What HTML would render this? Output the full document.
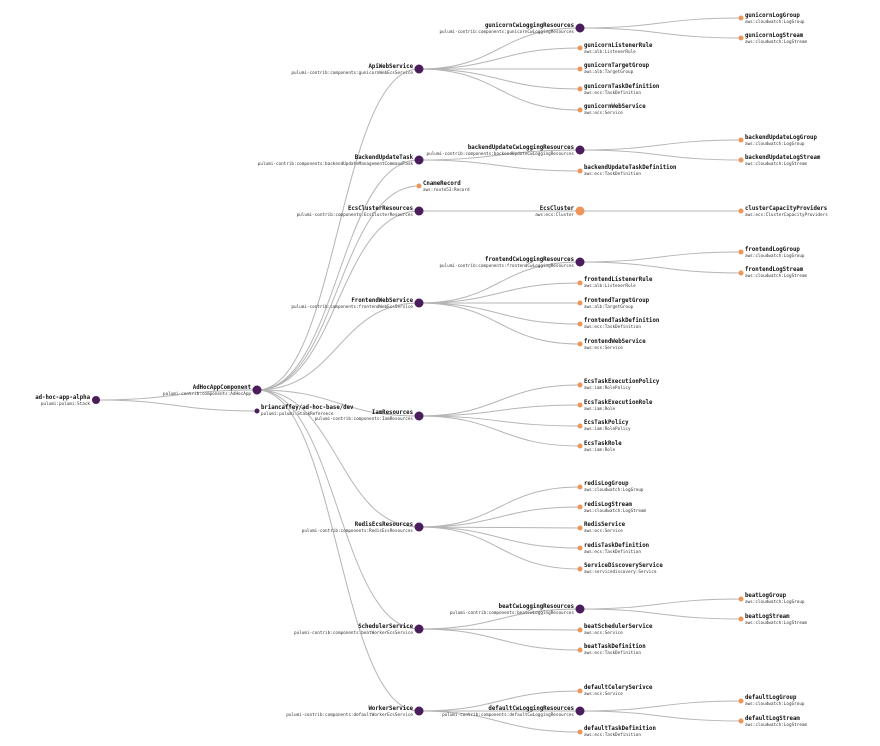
<!DOCTYPE html>
<html><head><meta charset="utf-8"><style>
html,body{margin:0;padding:0;background:#fff;}
svg{display:block;}
path{fill:none;stroke:#b5b5b5;stroke-width:1;}
text{font-family:"DejaVu Sans Mono","Liberation Mono",monospace;fill:#111;}
.n{font-size:5.7px;font-weight:bold;}
.t{font-size:4.3px;fill:#333;}
.l text{text-anchor:end;}
.p{fill:#4b1d5c;}
.o{fill:#f0955a;}
</style></head><body>
<svg width="880" height="746" viewBox="0 0 880 746" xmlns="http://www.w3.org/2000/svg">
<g>
<path d="M96,400C176.5,400 176.5,390 257,390"/>
<path d="M96,400C176.5,400 176.5,411 257,411"/>
<path d="M257,390C338,390 338,69 419,69"/>
<path d="M257,390C338,390 338,160 419,160"/>
<path d="M257,390C338,390 338,186 419,186"/>
<path d="M257,390C338,390 338,211 419,211"/>
<path d="M257,390C338,390 338,303 419,303"/>
<path d="M257,390C338,390 338,416 419,416"/>
<path d="M257,390C338,390 338,527 419,527"/>
<path d="M257,390C338,390 338,629 419,629"/>
<path d="M257,390C338,390 338,711 419,711"/>
<path d="M419,69C499.5,69 499.5,28 580,28"/>
<path d="M419,69C499.5,69 499.5,48 580,48"/>
<path d="M419,69C499.5,69 499.5,69 580,69"/>
<path d="M419,69C499.5,69 499.5,89 580,89"/>
<path d="M419,69C499.5,69 499.5,110 580,110"/>
<path d="M580,28C660.5,28 660.5,18 741,18"/>
<path d="M580,28C660.5,28 660.5,38 741,38"/>
<path d="M419,160C499.5,160 499.5,150 580,150"/>
<path d="M419,160C499.5,160 499.5,171 580,171"/>
<path d="M580,150C660.5,150 660.5,140 741,140"/>
<path d="M580,150C660.5,150 660.5,160 741,160"/>
<path d="M419,211C499.5,211 499.5,211 580,211"/>
<path d="M580,211C660.5,211 660.5,211 741,211"/>
<path d="M419,303C499.5,303 499.5,262 580,262"/>
<path d="M419,303C499.5,303 499.5,283 580,283"/>
<path d="M419,303C499.5,303 499.5,303 580,303"/>
<path d="M419,303C499.5,303 499.5,324 580,324"/>
<path d="M419,303C499.5,303 499.5,344 580,344"/>
<path d="M580,262C660.5,262 660.5,252 741,252"/>
<path d="M580,262C660.5,262 660.5,273 741,273"/>
<path d="M419,416C499.5,416 499.5,385 580,385"/>
<path d="M419,416C499.5,416 499.5,405 580,405"/>
<path d="M419,416C499.5,416 499.5,426 580,426"/>
<path d="M419,416C499.5,416 499.5,446 580,446"/>
<path d="M419,527C499.5,527 499.5,487 580,487"/>
<path d="M419,527C499.5,527 499.5,507 580,507"/>
<path d="M419,527C499.5,527 499.5,528 580,528"/>
<path d="M419,527C499.5,527 499.5,548 580,548"/>
<path d="M419,527C499.5,527 499.5,569 580,569"/>
<path d="M419,629C499.5,629 499.5,609 580,609"/>
<path d="M419,629C499.5,629 499.5,630 580,630"/>
<path d="M419,629C499.5,629 499.5,650 580,650"/>
<path d="M580,609C660.5,609 660.5,599 741,599"/>
<path d="M580,609C660.5,609 660.5,619 741,619"/>
<path d="M419,711C499.5,711 499.5,691 580,691"/>
<path d="M419,711C499.5,711 499.5,711 580,711"/>
<path d="M419,711C499.5,711 499.5,732 580,732"/>
<path d="M580,711C660.5,711 660.5,701 741,701"/>
<path d="M580,711C660.5,711 660.5,721 741,721"/>
</g>

<g class="l">
<circle class="p" cx="96" cy="400" r="4"/><text class="n" x="90" y="399">ad-hoc-app-alpha</text><text class="t" x="90" y="405">pulumi:pulumi:Stack</text>
<circle class="p" cx="257" cy="390" r="4.5"/><text class="n" x="251" y="389">AdHocAppComponent</text><text class="t" x="251" y="395">pulumi-contrib:components:AdHocApp</text>
<circle class="p" cx="419" cy="69" r="4.5"/><text class="n" x="413" y="68">ApiWebService</text><text class="t" x="413" y="74">pulumi-contrib:components:gunicornWebEcsService</text>
<circle class="p" cx="419" cy="160" r="4.5"/><text class="n" x="413" y="159">BackendUpdateTask</text><text class="t" x="413" y="165">pulumi-contrib:components:backendUpdateManagementCommandTask</text>
<circle class="p" cx="419" cy="211" r="4.5"/><text class="n" x="413" y="210">EcsClusterResources</text><text class="t" x="413" y="216">pulumi-contrib:components:EcsClusterResources</text>
<circle class="p" cx="419" cy="303" r="4.5"/><text class="n" x="413" y="302">FrontendWebService</text><text class="t" x="413" y="308">pulumi-contrib:components:frontendWebEcsService</text>
<circle class="p" cx="419" cy="416" r="4.5"/><text class="n" x="413" y="414">IamResources</text><text class="t" x="413" y="420">pulumi-contrib:components:IamResources</text>
<circle class="p" cx="419" cy="527" r="4.5"/><text class="n" x="413" y="526">RedisEcsResources</text><text class="t" x="413" y="532">pulumi-contrib:components:RedisEcsResources</text>
<circle class="p" cx="419" cy="629" r="4.5"/><text class="n" x="413" y="628">SchedulerService</text><text class="t" x="413" y="634">pulumi-contrib:components:beatWorkerEcsService</text>
<circle class="p" cx="419" cy="711" r="4.5"/><text class="n" x="413" y="710">WorkerService</text><text class="t" x="413" y="716">pulumi-contrib:components:defaultWorkerEcsService</text>
<circle class="p" cx="580" cy="28" r="4.5"/><text class="n" x="574" y="27">gunicornCwLoggingResources</text><text class="t" x="574" y="33">pulumi-contrib:components:gunicornCwLoggingResources</text>
<circle class="p" cx="580" cy="150" r="4.5"/><text class="n" x="574" y="149">backendUpdateCwLoggingResources</text><text class="t" x="574" y="155">pulumi-contrib:components:backendUpdateCwLoggingResources</text>
<circle class="o" cx="580" cy="211" r="4.5"/><text class="n" x="574" y="210">EcsCluster</text><text class="t" x="574" y="216">aws:ecs:Cluster</text>
<circle class="p" cx="580" cy="262" r="4.5"/><text class="n" x="574" y="261">frontendCwLoggingResources</text><text class="t" x="574" y="267">pulumi-contrib:components:frontendCwLoggingResources</text>
<circle class="p" cx="580" cy="609" r="4.5"/><text class="n" x="574" y="608">beatCwLoggingResources</text><text class="t" x="574" y="614">pulumi-contrib:components:beatCwLoggingResources</text>
<circle class="p" cx="580" cy="711" r="4.5"/><text class="n" x="574" y="710">defaultCwLoggingResources</text><text class="t" x="574" y="716">pulumi-contrib:components:defaultCwLoggingResources</text>
</g>

<g>
<circle class="p" cx="257" cy="411" r="2.5"/><text class="n" x="261" y="409">briancaffey/ad-hoc-base/dev</text><text class="t" x="261" y="415">pulumi:pulumi:StackReference</text>
<circle class="o" cx="419" cy="186" r="2.5"/><text class="n" x="423" y="185">CnameRecord</text><text class="t" x="423" y="191">aws:route53:Record</text>

<circle class="o" cx="580" cy="48" r="2.5"/><text class="n" x="584" y="47">gunicornListenerRule</text><text class="t" x="584" y="53">aws:alb:ListenerRule</text>
<circle class="o" cx="580" cy="69" r="2.5"/><text class="n" x="584" y="67">gunicornTargetGroup</text><text class="t" x="584" y="73">aws:alb:TargetGroup</text>
<circle class="o" cx="580" cy="89" r="2.5"/><text class="n" x="584" y="88">gunicornTaskDefinition</text><text class="t" x="584" y="94">aws:ecs:TaskDefinition</text>
<circle class="o" cx="580" cy="110" r="2.5"/><text class="n" x="584" y="108">gunicornWebService</text><text class="t" x="584" y="114">aws:ecs:Service</text>
<circle class="o" cx="741" cy="18" r="2.5"/><text class="n" x="745" y="17">gunicornLogGroup</text><text class="t" x="745" y="23">aws:cloudwatch:LogGroup</text>
<circle class="o" cx="741" cy="38" r="2.5"/><text class="n" x="745" y="37">gunicornLogStream</text><text class="t" x="745" y="43">aws:cloudwatch:LogStream</text>

<circle class="o" cx="580" cy="171" r="2.5"/><text class="n" x="584" y="169">backendUpdateTaskDefinition</text><text class="t" x="584" y="175">aws:ecs:TaskDefinition</text>
<circle class="o" cx="741" cy="140" r="2.5"/><text class="n" x="745" y="139">backendUpdateLogGroup</text><text class="t" x="745" y="145">aws:cloudwatch:LogGroup</text>
<circle class="o" cx="741" cy="160" r="2.5"/><text class="n" x="745" y="159">backendUpdateLogStream</text><text class="t" x="745" y="165">aws:cloudwatch:LogStream</text>

<circle class="o" cx="741" cy="211" r="2.5"/><text class="n" x="745" y="210">clusterCapacityProviders</text><text class="t" x="745" y="216">aws:ecs:ClusterCapacityProviders</text>

<circle class="o" cx="580" cy="283" r="2.5"/><text class="n" x="584" y="281">frontendListenerRule</text><text class="t" x="584" y="287">aws:alb:ListenerRule</text>
<circle class="o" cx="580" cy="303" r="2.5"/><text class="n" x="584" y="302">frontendTargetGroup</text><text class="t" x="584" y="308">aws:alb:TargetGroup</text>
<circle class="o" cx="580" cy="324" r="2.5"/><text class="n" x="584" y="322">frontendTaskDefinition</text><text class="t" x="584" y="328">aws:ecs:TaskDefinition</text>
<circle class="o" cx="580" cy="344" r="2.5"/><text class="n" x="584" y="343">frontendWebService</text><text class="t" x="584" y="349">aws:ecs:Service</text>
<circle class="o" cx="741" cy="252" r="2.5"/><text class="n" x="745" y="251">frontendLogGroup</text><text class="t" x="745" y="257">aws:cloudwatch:LogGroup</text>
<circle class="o" cx="741" cy="273" r="2.5"/><text class="n" x="745" y="271">frontendLogStream</text><text class="t" x="745" y="277">aws:cloudwatch:LogStream</text>

<circle class="o" cx="580" cy="385" r="2.5"/><text class="n" x="584" y="383">EcsTaskExecutionPolicy</text><text class="t" x="584" y="389">aws:iam:RolePolicy</text>
<circle class="o" cx="580" cy="405" r="2.5"/><text class="n" x="584" y="404">EcsTaskExecutionRole</text><text class="t" x="584" y="410">aws:iam:Role</text>
<circle class="o" cx="580" cy="426" r="2.5"/><text class="n" x="584" y="424">EcsTaskPolicy</text><text class="t" x="584" y="430">aws:iam:RolePolicy</text>
<circle class="o" cx="580" cy="446" r="2.5"/><text class="n" x="584" y="445">EcsTaskRole</text><text class="t" x="584" y="451">aws:iam:Role</text>

<circle class="o" cx="580" cy="487" r="2.5"/><text class="n" x="584" y="485">redisLogGroup</text><text class="t" x="584" y="491">aws:cloudwatch:LogGroup</text>
<circle class="o" cx="580" cy="507" r="2.5"/><text class="n" x="584" y="506">redisLogStream</text><text class="t" x="584" y="512">aws:cloudwatch:LogStream</text>
<circle class="o" cx="580" cy="528" r="2.5"/><text class="n" x="584" y="526">RedisService</text><text class="t" x="584" y="532">aws:ecs:Service</text>
<circle class="o" cx="580" cy="548" r="2.5"/><text class="n" x="584" y="547">redisTaskDefinition</text><text class="t" x="584" y="553">aws:ecs:TaskDefinition</text>
<circle class="o" cx="580" cy="569" r="2.5"/><text class="n" x="584" y="567">ServiceDiscoveryService</text><text class="t" x="584" y="573">aws:servicediscovery:Service</text>

<circle class="o" cx="580" cy="630" r="2.5"/><text class="n" x="584" y="628">beatSchedulerService</text><text class="t" x="584" y="634">aws:ecs:Service</text>
<circle class="o" cx="580" cy="650" r="2.5"/><text class="n" x="584" y="648">beatTaskDefinition</text><text class="t" x="584" y="654">aws:ecs:TaskDefinition</text>
<circle class="o" cx="741" cy="599" r="2.5"/><text class="n" x="745" y="597">beatLogGroup</text><text class="t" x="745" y="603">aws:cloudwatch:LogGroup</text>
<circle class="o" cx="741" cy="619" r="2.5"/><text class="n" x="745" y="618">beatLogStream</text><text class="t" x="745" y="624">aws:cloudwatch:LogStream</text>

<circle class="o" cx="580" cy="691" r="2.5"/><text class="n" x="584" y="689">defaultCelerySerivce</text><text class="t" x="584" y="695">aws:ecs:Service</text>
<circle class="o" cx="580" cy="732" r="2.5"/><text class="n" x="584" y="730">defaultTaskDefinition</text><text class="t" x="584" y="736">aws:ecs:TaskDefinition</text>
<circle class="o" cx="741" cy="701" r="2.5"/><text class="n" x="745" y="699">defaultLogGroup</text><text class="t" x="745" y="705">aws:cloudwatch:LogGroup</text>
<circle class="o" cx="741" cy="721" r="2.5"/><text class="n" x="745" y="720">defaultLogStream</text><text class="t" x="745" y="726">aws:cloudwatch:LogStream</text>
</g>
</svg>
</body></html>
